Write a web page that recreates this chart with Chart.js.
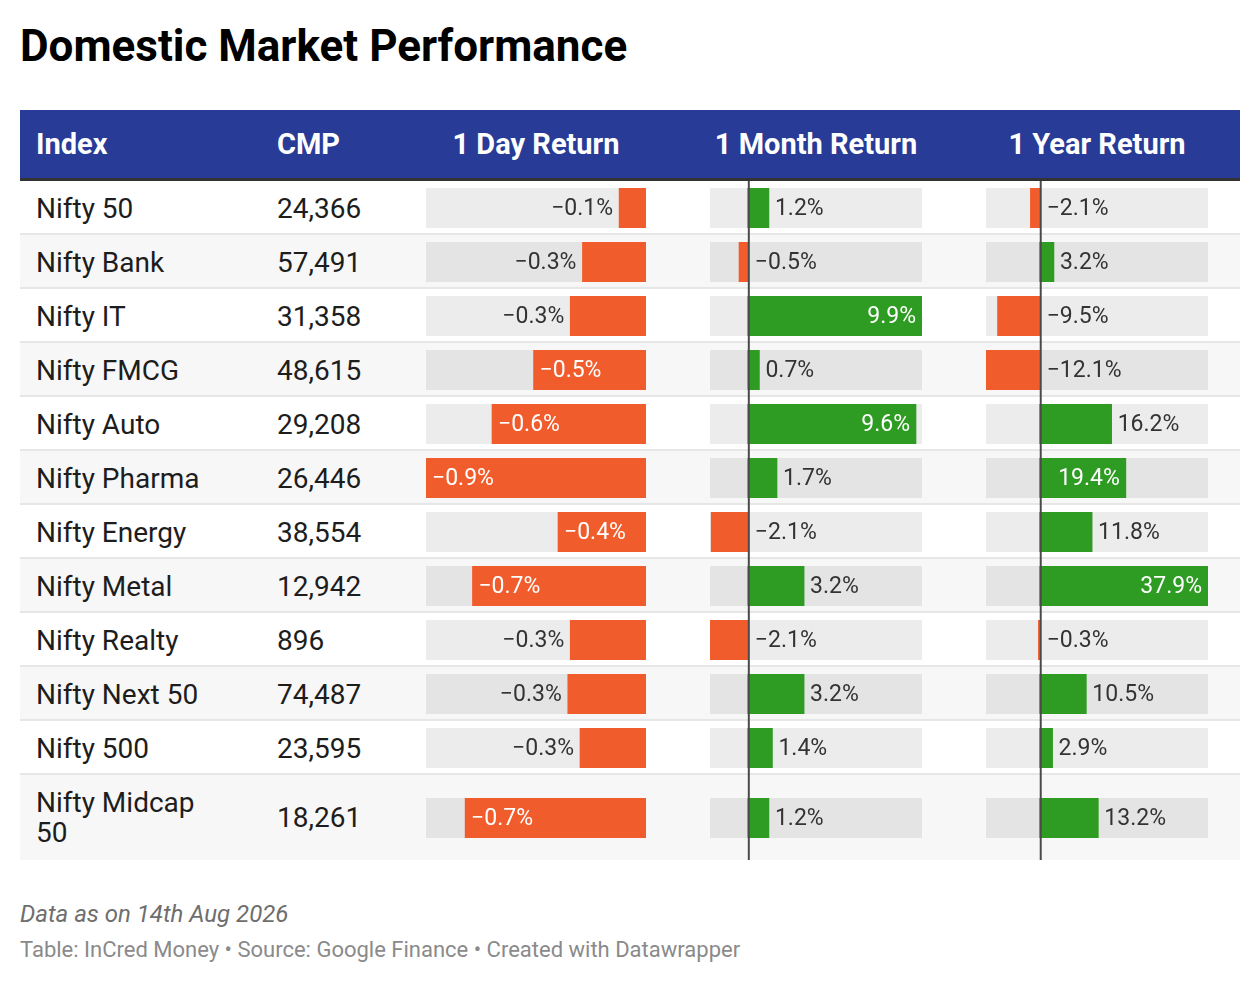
<!DOCTYPE html>
<html>
<head>
<meta charset="utf-8">
<script src="https://cdn.jsdelivr.net/npm/chart.js@4"></script>
<style>
  body { margin: 0; background: #fff; font-family: Roboto, sans-serif; width: 1260px; height: 984px; position: relative; overflow: hidden; }
  #title { position: absolute; left: 20px; top: 24px; font-size: 44px; line-height: 44px; font-weight: 700; color: #000; }
  #tbl { position: absolute; left: 20px; top: 110px; width: 1220px; }
  .head { position: relative; height: 68px; background: #283b96; border-bottom: 3px solid #333; color: #fff; font-weight: 700; font-size: 29px; line-height: 68px; }
  .head div { position: absolute; top: 0; }
  .row { position: relative; display: flex; align-items: center; box-sizing: border-box; border-bottom: 2px solid #e6e6e6; color: #1d1d1d; font-size: 28px; line-height: 30px; }
  .row.alt { background: #f7f7f7; }
  .row.last { border-bottom-color: transparent; }
  .name { flex: 0 0 auto; width: 185px; padding: 12.5px 56px 9.5px 16px; }
  .row.last .name { padding-bottom: 10.5px; }
  .cmp { flex: 0 0 auto; padding: 12.5px 0 9.5px 0; }
  .row canvas { position: absolute; top: 0; }
  #note { position: absolute; left: 20px; top: 902px; font-size: 24px; line-height: 24px; font-style: italic; color: #6e6e6e; }
  #src { position: absolute; left: 20px; top: 939px; font-size: 22px; line-height: 22px; color: #8a8a8a; }
</style>
</head>
<body>
<div id="title">Domestic Market Performance</div>
<div id="tbl"></div>
<div id="note">Data as on 14th Aug 2026</div>
<div id="src">Table: InCred Money • Source: Google Finance • Created with Datawrapper</div>
<script>
// table data
const indices = ['Nifty 50', 'Nifty Bank', 'Nifty IT', 'Nifty FMCG', 'Nifty Auto', 'Nifty Pharma',
  'Nifty Energy', 'Nifty Metal', 'Nifty Realty', 'Nifty Next 50', 'Nifty 500', 'Nifty Midcap 50'];
const cmp = [24366, 57491, 31358, 48615, 29208, 26446, 38554, 12942, 896, 74487, 23595, 18261];
const dayReturn = [-0.11, -0.26, -0.31, -0.46, -0.63, -0.9, -0.36, -0.71, -0.31, -0.32, -0.27, -0.74];
const monthReturn = [1.2, -0.5, 9.9, 0.66, 9.56, 1.66, -2.08, 3.2, -2.149, 3.2, 1.4, 1.2];
const yearReturn = [-2.1, 3.2, -9.5, -12.1, 16.2, 19.4, 11.8, 37.9, -0.3, 10.5, 2.9, 13.2];
const headers = ['Index', 'CMP', '1 Day Return', '1 Month Return', '1 Year Return'];

const POS = '#2e9b22';
const NEG = '#f15c2c';

// bar columns: left offset inside the table and width of the bar area
const barCols = [
  { values: dayReturn, left: 406, width: 220, zeroLine: false },
  { values: monthReturn, left: 690, width: 212, zeroLine: true },
  { values: yearReturn, left: 966, width: 222, zeroLine: true }
];

const tbl = document.getElementById('tbl');

// header
const head = document.createElement('div');
head.className = 'head';
head.innerHTML = `<div style="left:16px">${headers[0]}</div><div style="left:257px">${headers[1]}</div>`;
barCols.forEach((c, i) => {
  const d = document.createElement('div');
  d.style.left = c.left + 'px';
  d.style.width = c.width + 'px';
  d.style.textAlign = 'center';
  d.textContent = headers[i + 2];
  head.appendChild(d);
});
tbl.appendChild(head);

// rows
const rows = indices.map((name, i) => {
  const r = document.createElement('div');
  r.className = 'row' + (i % 2 ? ' alt' : '') + (i === indices.length - 1 ? ' last' : '');
  r.innerHTML = `<div class="name">${name}</div><div class="cmp">${cmp[i].toLocaleString('en-US')}</div>`;
  tbl.appendChild(r);
  return r;
});

const fmt = v => (v < 0 ? '\u2212' : '') + Math.abs(v).toFixed(1) + '%';

const cellPlugin = {
  id: 'cell',
  beforeDatasetsDraw(chart) {
    const { ctx, chartArea: a } = chart;
    ctx.save();
    ctx.fillStyle = 'rgba(0,0,0,0.075)';
    ctx.fillRect(a.left, a.top, a.right - a.left, a.bottom - a.top);
    ctx.restore();
  },
  afterDatasetsDraw(chart, args, opts) {
    const ctx = chart.ctx;
    const xs = chart.scales.x;
    const bar = chart.getDatasetMeta(0).data[0];
    const v = chart.data.datasets[0].data[0];
    const zero = xs.getPixelForValue(0);
    ctx.save();
    if (opts.zeroLine) {
      ctx.strokeStyle = '#4a4a4a';
      ctx.lineWidth = 2;
      ctx.beginPath();
      ctx.moveTo(zero + 1, 0);
      ctx.lineTo(zero + 1, chart.height);
      ctx.stroke();
    }
    const text = fmt(v);
    ctx.font = '23px Roboto';
    ctx.textBaseline = 'middle';
    const tw = ctx.measureText(text).width;
    const len = Math.abs(bar.x - bar.base);
    const y = bar.y + 1;
    const pad = 6;
    if (v < 0 && xs.max > 0) {
      ctx.fillStyle = '#333';
      ctx.textAlign = 'left';
      ctx.fillText(text, zero + pad + 1, y);
    } else if (len >= tw + 20) {
      ctx.fillStyle = '#fff';
      ctx.textAlign = v < 0 ? 'left' : 'right';
      ctx.fillText(text, v < 0 ? bar.x + pad : bar.x - pad, y);
    } else {
      ctx.fillStyle = '#333';
      ctx.textAlign = v < 0 ? 'right' : 'left';
      ctx.fillText(text, v < 0 ? bar.x - pad : bar.x + pad, y);
    }
    ctx.restore();
  }
};

function draw() {
  rows.forEach((r, i) => {
    const h = r.offsetHeight;
    const top = Math.round((h - 40) / 2);
    barCols.forEach(c => {
      const cv = document.createElement('canvas');
      cv.width = c.width;
      cv.height = h;
      cv.style.left = c.left + 'px';
      cv.style.width = c.width + 'px';
      cv.style.height = h + 'px';
      r.appendChild(cv);
      const v = c.values[i];
      new Chart(cv, {
        type: 'bar',
        data: {
          labels: [indices[i]],
          datasets: [{
            data: [v],
            backgroundColor: v < 0 ? NEG : POS,
            barPercentage: 1,
            categoryPercentage: 1
          }]
        },
        options: {
          indexAxis: 'y',
          responsive: false,
          animation: false,
          events: [],
          layout: { padding: { top: top, bottom: h - 40 - top, left: 0, right: 0 } },
          plugins: {
            legend: { display: false },
            tooltip: { enabled: false },
            cell: { zeroLine: c.zeroLine }
          },
          scales: {
            x: { type: 'linear', display: false, min: Math.min(0, ...c.values), max: Math.max(0, ...c.values) },
            y: { display: false }
          }
        },
        plugins: [cellPlugin]
      });
    });
  });
}

document.fonts.ready.then(draw);
</script>
</body>
</html>
